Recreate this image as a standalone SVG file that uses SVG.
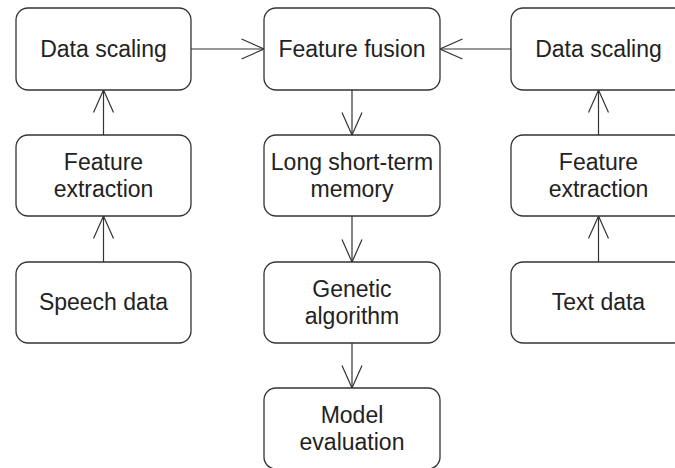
<svg xmlns="http://www.w3.org/2000/svg" width="675" height="468" viewBox="0 0 675 468">
<defs>
<style>
.box{fill:#fff;stroke:#333;stroke-width:1.3}
.t{font-family:"Liberation Sans",Arial,sans-serif;font-size:23px;fill:#222;text-anchor:middle}
.c{stroke:#333;stroke-width:1.2;fill:none}
</style>
<marker id="ah" viewBox="0 0 24 22" refX="23" refY="11" markerWidth="24" markerHeight="22" markerUnits="userSpaceOnUse" orient="auto">
<path d="M0.5,1 L23,11 L0.5,21" fill="none" stroke="#333" stroke-width="1.2"/>
</marker>
</defs>
<rect width="675" height="468" fill="#fff"/>
<g id="connectors">
<line class="c" x1="191" y1="49" x2="264" y2="49" marker-end="url(#ah)"/>
<line class="c" x1="511" y1="49" x2="440" y2="49" marker-end="url(#ah)"/>
<line class="c" x1="103.5" y1="135" x2="103.5" y2="90" marker-end="url(#ah)"/>
<line class="c" x1="103.5" y1="262" x2="103.5" y2="216" marker-end="url(#ah)"/>
<line class="c" x1="598.5" y1="135" x2="598.5" y2="90" marker-end="url(#ah)"/>
<line class="c" x1="598.5" y1="262" x2="598.5" y2="216" marker-end="url(#ah)"/>
<line class="c" x1="352" y1="90" x2="352" y2="135" marker-end="url(#ah)"/>
<line class="c" x1="352" y1="216" x2="352" y2="262" marker-end="url(#ah)"/>
<line class="c" x1="352" y1="343" x2="352" y2="388" marker-end="url(#ah)"/>
</g>
<g id="ds_left"><rect class="box" x="16" y="8" width="175" height="82" rx="12"/><text class="t" x="103.5" y="57">Data scaling</text></g>
<g id="fe_left"><rect class="box" x="16" y="135" width="175" height="81" rx="12"/><text class="t" x="103.5" y="170">Feature</text><text class="t" x="103.5" y="197">extraction</text></g>
<g id="speech"><rect class="box" x="16" y="262" width="175" height="81" rx="12"/><text class="t" x="103.5" y="310">Speech data</text></g>
<g id="fusion"><rect class="box" x="264" y="8" width="176" height="82" rx="12"/><text class="t" x="352" y="57">Feature fusion</text></g>
<g id="lstm"><rect class="box" x="264" y="135" width="176" height="81" rx="12"/><text class="t" x="352" y="170">Long short-term</text><text class="t" x="352" y="197">memory</text></g>
<g id="ga"><rect class="box" x="264" y="262" width="176" height="81" rx="12"/><text class="t" x="352" y="297">Genetic</text><text class="t" x="352" y="324">algorithm</text></g>
<g id="eval"><rect class="box" x="264" y="388" width="176" height="81" rx="12"/><text class="t" x="352" y="423">Model</text><text class="t" x="352" y="450">evaluation</text></g>
<g id="ds_right"><rect class="box" x="511" y="8" width="175" height="82" rx="12"/><text class="t" x="598.5" y="57">Data scaling</text></g>
<g id="fe_right"><rect class="box" x="511" y="135" width="175" height="81" rx="12"/><text class="t" x="598.5" y="170">Feature</text><text class="t" x="598.5" y="197">extraction</text></g>
<g id="text"><rect class="box" x="511" y="262" width="175" height="81" rx="12"/><text class="t" x="598.5" y="310">Text data</text></g>
</svg>
